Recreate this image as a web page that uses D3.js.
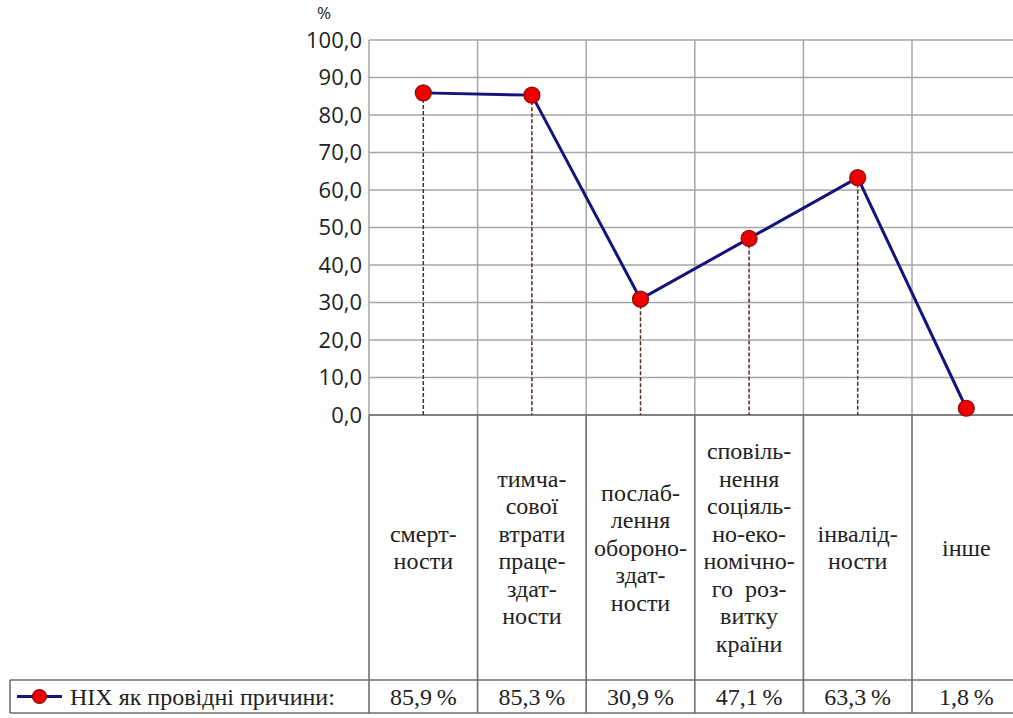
<!DOCTYPE html>
<html>
<head>
<meta charset="utf-8">
<script src="https://cdn.jsdelivr.net/npm/d3@7"></script>
<style>
  body { margin: 0; background: #fff; }
  svg { display: block; }
</style>
</head>
<body>
<svg id="chart" width="1013" height="718"></svg>
<script>
// chart data
const categories = ['смертности', 'тимчасової', 'ослаблення', 'сповільнення', 'інвалідности', 'інше'];
const categoryLines = [
  ['смерт-', 'ности'],
  ['тимча-', 'сової', 'втрати', 'праце-', 'здат-', 'ности'],
  ['послаб-', 'лення', 'обороно-', 'здат-', 'ности'],
  ['сповіль-', 'нення', 'соціяль-', 'но-еко-', 'номічно-', 'го\u00a0\u00a0роз-', 'витку', 'країни'],
  ['інвалід-', 'ности'],
  ['інше']
];
const values = [85.9, 85.3, 30.9, 47.1, 63.3, 1.8];
const yTicks = [0, 10, 20, 30, 40, 50, 60, 70, 80, 90, 100];
const seriesName = 'НІХ як провідні причини:';

const svg = d3.select('#chart');
const margin = { top: 40, left: 369 };
const colW = 108.6;
const plotW = colW * categories.length;
const plotH = 375;
const headerH = 265;
const rowH = 33;
const legendLeft = 10;

const serif = 'Liberation Serif, DejaVu Serif, serif';
const sans = 'Open Sans, sans-serif';

const uaFormat = d3.formatLocale({ decimal: ',', thousands: ' ', grouping: [3], currency: ['', ''] }).format('.1f');

const xScale = d3.scaleBand()
  .domain(categories)
  .range([margin.left, margin.left + plotW]);

const yScale = d3.scaleLinear()
  .domain([0, 100])
  .range([margin.top + plotH, margin.top]);

const gridColor = '#a6a6a6';
const tableColor = '#6e6e6e';
const bottom = margin.top + plotH;

// horizontal grid
svg.append('g')
  .selectAll('line')
  .data(yTicks)
  .enter()
  .append('line')
  .attr('x1', margin.left)
  .attr('x2', margin.left + plotW)
  .attr('y1', (d) => yScale(d))
  .attr('y2', (d) => yScale(d))
  .attr('stroke', gridColor)
  .attr('stroke-width', 1.5);

// vertical grid inside plot
svg.append('g')
  .selectAll('line')
  .data(categories)
  .enter()
  .append('line')
  .attr('x1', (d) => xScale(d))
  .attr('x2', (d) => xScale(d))
  .attr('y1', margin.top)
  .attr('y2', bottom)
  .attr('stroke', gridColor)
  .attr('stroke-width', 1.5);

// y axis labels
const yAxis = svg.append('g')
  .attr('transform', `translate(${margin.left},0)`)
  .call(d3.axisLeft(yScale).tickValues(yTicks).tickSize(0).tickPadding(7).tickFormat(uaFormat));
yAxis.select('.domain').remove();
yAxis
  .attr('font-family', sans)
  .attr('font-size', 22);
yAxis.selectAll('text')
  .attr('fill', '#222');

svg.append('text')
  .attr('x', 324)
  .attr('y', 19)
  .attr('text-anchor', 'middle')
  .attr('font-family', sans)
  .attr('font-size', 17)
  .attr('fill', '#222')
  .text('%');

// table lines
const tableBottom = bottom + headerH + rowH;
const table = svg.append('g').attr('stroke', tableColor).attr('stroke-width', 1.6);
table.append('line')
  .attr('x1', margin.left).attr('x2', margin.left + plotW)
  .attr('y1', bottom).attr('y2', bottom);
table.append('line')
  .attr('x1', legendLeft).attr('x2', margin.left + plotW)
  .attr('y1', bottom + headerH).attr('y2', bottom + headerH);
table.append('line')
  .attr('x1', legendLeft).attr('x2', margin.left + plotW)
  .attr('y1', tableBottom).attr('y2', tableBottom);
table.append('line')
  .attr('x1', legendLeft).attr('x2', legendLeft)
  .attr('y1', bottom + headerH).attr('y2', tableBottom);
table.selectAll('line.col')
  .data(categories.concat(['end']))
  .enter()
  .append('line')
  .attr('class', 'col')
  .attr('x1', (d, i) => margin.left + i * colW)
  .attr('x2', (d, i) => margin.left + i * colW)
  .attr('y1', bottom)
  .attr('y2', tableBottom);

// drop lines
svg.append('g')
  .selectAll('line')
  .data(values.slice(0, values.length - 1))
  .enter()
  .append('line')
  .attr('x1', (d, i) => xScale(categories[i]) + xScale.bandwidth() / 2)
  .attr('x2', (d, i) => xScale(categories[i]) + xScale.bandwidth() / 2)
  .attr('y1', (d) => yScale(d))
  .attr('y2', bottom)
  .attr('stroke', '#5b2a20')
  .attr('stroke-width', 1.5)
  .attr('stroke-dasharray', '4,2');

// series line
const line = d3.line()
  .x((d, i) => xScale(categories[i]) + xScale.bandwidth() / 2)
  .y((d) => yScale(d));

svg.append('path')
  .datum(values)
  .attr('fill', 'none')
  .attr('stroke', '#14147a')
  .attr('stroke-width', 3)
  .attr('d', line);

svg.append('g')
  .selectAll('circle')
  .data(values)
  .enter()
  .append('circle')
  .attr('cx', (d, i) => xScale(categories[i]) + xScale.bandwidth() / 2)
  .attr('cy', (d) => yScale(d))
  .attr('r', 8)
  .attr('fill', '#ee0000')
  .attr('stroke', '#8a0d0d')
  .attr('stroke-width', 1.2);

// category labels
const lineH = 27.5;
const headerMid = bottom + headerH / 2;
categoryLines.forEach((lines, i) => {
  const cx = xScale(categories[i]) + xScale.bandwidth() / 2;
  const t = svg.append('text')
    .attr('text-anchor', 'middle')
    .attr('font-family', serif)
    .attr('font-size', 24)
    .attr('fill', '#222');
  const y0 = headerMid - (lines.length - 1) * lineH / 2 + 8;
  lines.forEach((s, j) => {
    t.append('tspan')
      .attr('x', cx)
      .attr('y', y0 + j * lineH)
      .text(s);
  });
});

// value row
svg.append('g')
  .selectAll('text')
  .data(values)
  .enter()
  .append('text')
  .attr('x', (d, i) => xScale(categories[i]) + xScale.bandwidth() / 2)
  .attr('y', bottom + headerH + rowH / 2 + 8)
  .attr('text-anchor', 'middle')
  .attr('font-family', serif)
  .attr('font-size', 24)
  .attr('fill', '#222')
  .text((d) => uaFormat(d) + '\u2009%');

// legend cell
const legY = bottom + headerH + rowH / 2;
svg.append('line')
  .attr('x1', 17).attr('x2', 62)
  .attr('y1', legY).attr('y2', legY)
  .attr('stroke', '#14147a')
  .attr('stroke-width', 3);
svg.append('circle')
  .attr('cx', 39.5).attr('cy', legY)
  .attr('r', 7)
  .attr('fill', '#ee0000')
  .attr('stroke', '#8a0d0d')
  .attr('stroke-width', 1.2);
svg.append('text')
  .attr('x', 70)
  .attr('y', legY + 8)
  .attr('font-family', serif)
  .attr('font-size', 24)
  .attr('fill', '#222')
  .text(seriesName);
</script>
</body>
</html>
